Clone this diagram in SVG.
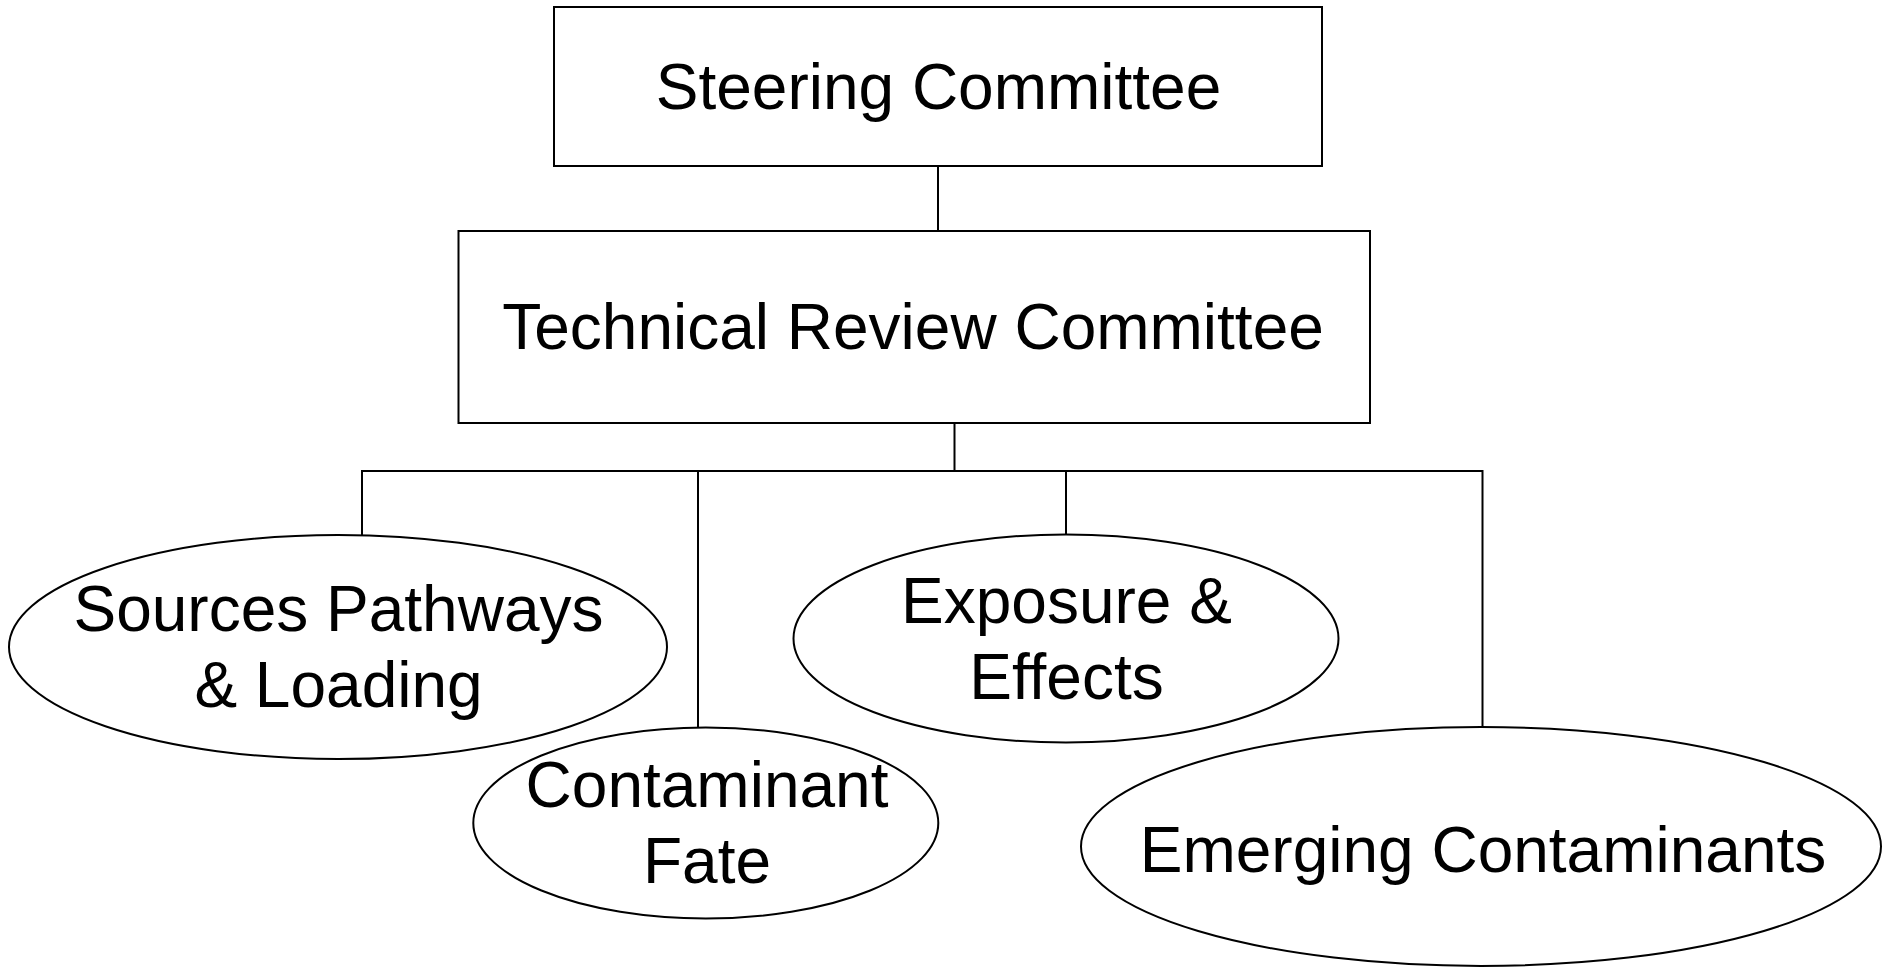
<svg xmlns="http://www.w3.org/2000/svg" width="1893" height="967" viewBox="0 0 1893 967">
<style>
.shape{fill:#ffffff;stroke:#000000;stroke-width:2}
.conn{fill:none;stroke:#000000;stroke-width:2}
.lbl{font-family:"Liberation Sans",Arial,sans-serif;font-size:64px;fill:#000000;text-anchor:middle}
</style>
<rect x="0" y="0" width="1893" height="967" fill="#ffffff"/>
<g id="connectors">
<line class="conn" x1="938" y1="166" x2="938" y2="231"/>
<line class="conn" x1="954.5" y1="423" x2="954.5" y2="471"/>
<polyline class="conn" points="362,535 362,471 1482.5,471 1482.5,727"/>
<line class="conn" x1="698" y1="471" x2="698" y2="727"/>
<line class="conn" x1="1066" y1="471" x2="1066" y2="535"/>
</g>
<g id="steering-committee">
<rect class="shape" x="554" y="7" width="768" height="159"/>
<text class="lbl" x="938.5" y="108.5">Steering Committee</text>
</g>
<g id="technical-review-committee">
<rect class="shape" x="458.5" y="231" width="911.5" height="192"/>
<text class="lbl" x="913" y="348.5">Technical Review Committee</text>
</g>
<g id="sources-pathways-loading">
<ellipse class="shape" cx="338" cy="647" rx="329" ry="112"/>
<text class="lbl" x="338.5" y="631">Sources Pathways</text>
<text class="lbl" x="338.5" y="707">&amp; Loading</text>
</g>
<g id="contaminant-fate">
<ellipse class="shape" cx="705.8" cy="823" rx="232.5" ry="95.5"/>
<text class="lbl" x="707" y="806.7">Contaminant</text>
<text class="lbl" x="707" y="882.7">Fate</text>
</g>
<g id="exposure-effects">
<ellipse class="shape" cx="1066" cy="638.5" rx="272.5" ry="104"/>
<text class="lbl" x="1066.5" y="622.7">Exposure &amp;</text>
<text class="lbl" x="1066.5" y="698.7">Effects</text>
</g>
<g id="emerging-contaminants">
<ellipse class="shape" cx="1481" cy="846.5" rx="400" ry="119.5"/>
<text class="lbl" x="1483" y="872">Emerging Contaminants</text>
</g>
</svg>
